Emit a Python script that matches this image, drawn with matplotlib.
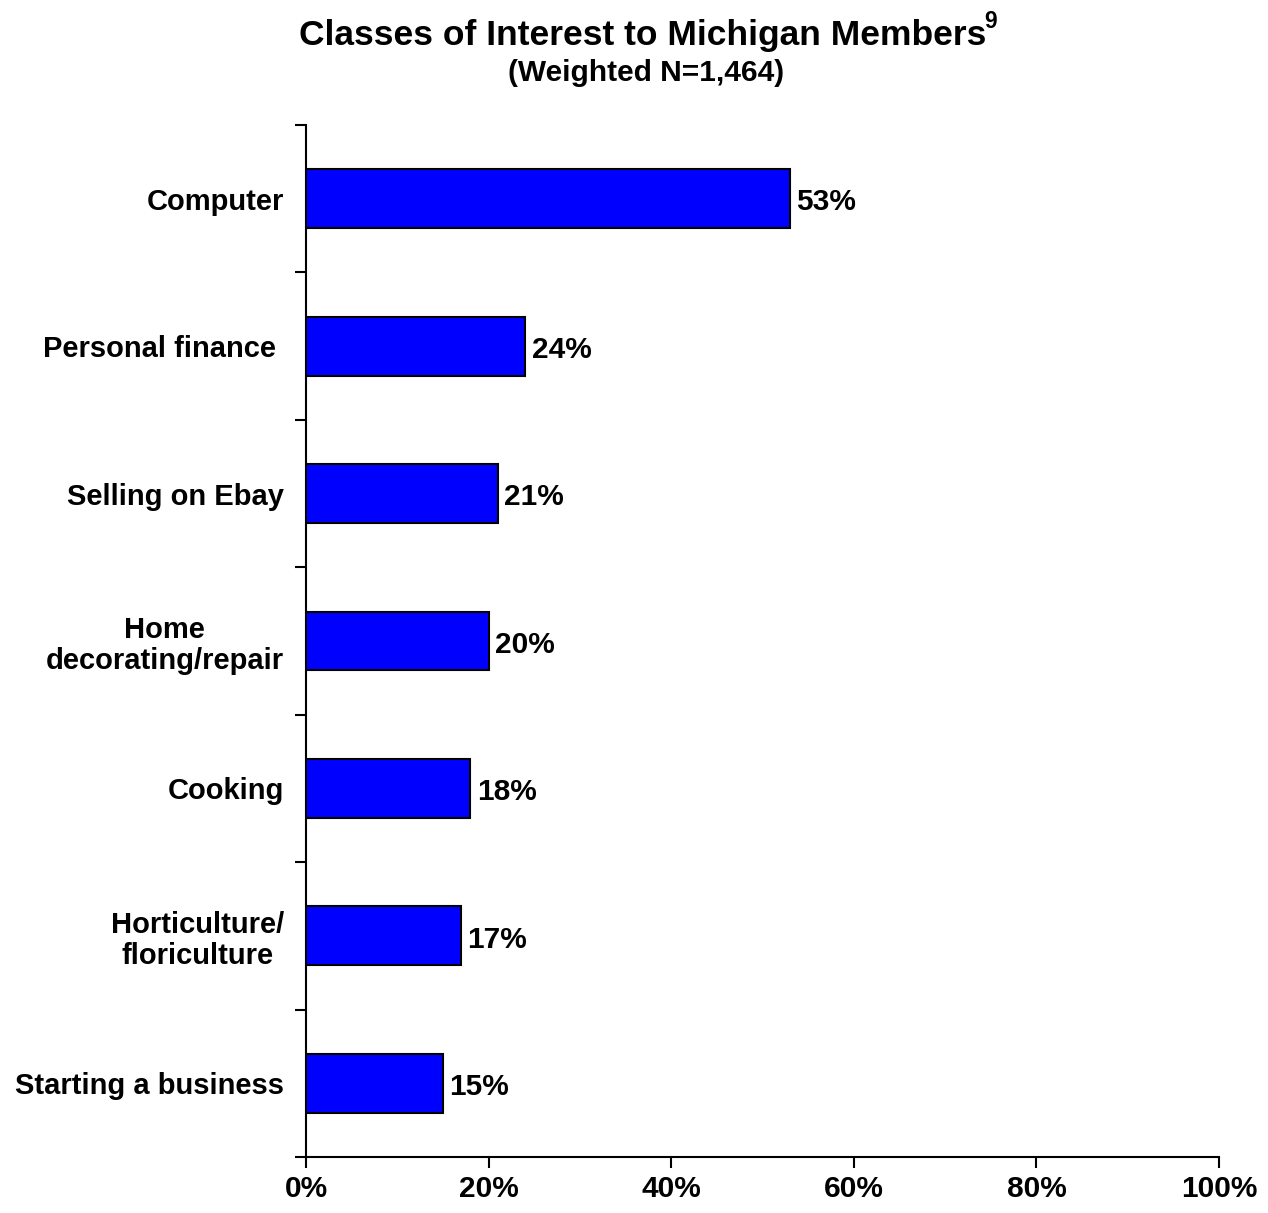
import matplotlib
matplotlib.use("Agg")
import matplotlib.pyplot as plt
import numpy as np

categories = ["Computer", "Personal finance ", "Selling on Ebay", "Home\ndecorating/repair",
              "Cooking", "Horticulture/\nfloriculture", "Starting a business"]
values = [53, 24, 21, 20, 18, 17, 15]
xticks = [0, 20, 40, 60, 80, 100]
xtick_labels = ["0%", "20%", "40%", "60%", "80%", "100%"]

plt.rcParams['font.family'] = ['Liberation Sans', 'DejaVu Sans']
plt.rcParams['font.weight'] = 'bold'

fig = plt.figure(figsize=(12.68, 12.13), dpi=100)
ax = fig.add_axes([306/1268, 1 - 1157/1213, (1219-306)/1268, (1157-125)/1213])

n = len(categories)
y = np.arange(n)
ax.barh(y, values, height=0.4, color='#0000FF', edgecolor='black', linewidth=1.5, zorder=3)
for yi, v in zip(y, values):
    ax.text(v + 0.7, yi + 0.025, f"{v}%", va='center', ha='left', fontsize=21.5, fontweight='bold')

ax.set_ylim(n - 0.5, -0.5)
ax.set_xlim(0, 100)
ax.set_yticks(y)
ax.set_yticklabels(categories, fontsize=21, fontweight='bold', multialignment='center',
                   linespacing=1.15)
ax.set_yticks(np.arange(-0.5, n, 1.0), minor=True)
ax.tick_params(axis='y', which='major', length=0, pad=16)
ax.tick_params(axis='y', which='minor', length=8, width=1.5, direction='out')
ax.set_xticks(xticks)
ax.set_xticklabels(xtick_labels, fontsize=21.5, fontweight='bold')
ax.tick_params(axis='x', length=8, width=1.5, direction='out', pad=5)
for s in ['top', 'right']:
    ax.spines[s].set_visible(False)
for s in ['left', 'bottom']:
    ax.spines[s].set_linewidth(1.5)

title = fig.text(643/1268, 1 - 36/1213, "Classes of Interest to Michigan Members",
                 ha='center', va='center', fontsize=25.5, fontweight='bold')
fig.text(646/1268, 1 - 73/1213, "(Weighted N=1,464)", ha='center', va='center',
         fontsize=21.5, fontweight='bold')

fig.canvas.draw()
bb = title.get_window_extent(renderer=fig.canvas.get_renderer())
fig.text((bb.x1 - 2) / (1268), 1 - 21/1213, "9", ha='left', va='center',
         fontsize=16.5, fontweight='bold')

fig.savefig("out.png", dpi=100)
